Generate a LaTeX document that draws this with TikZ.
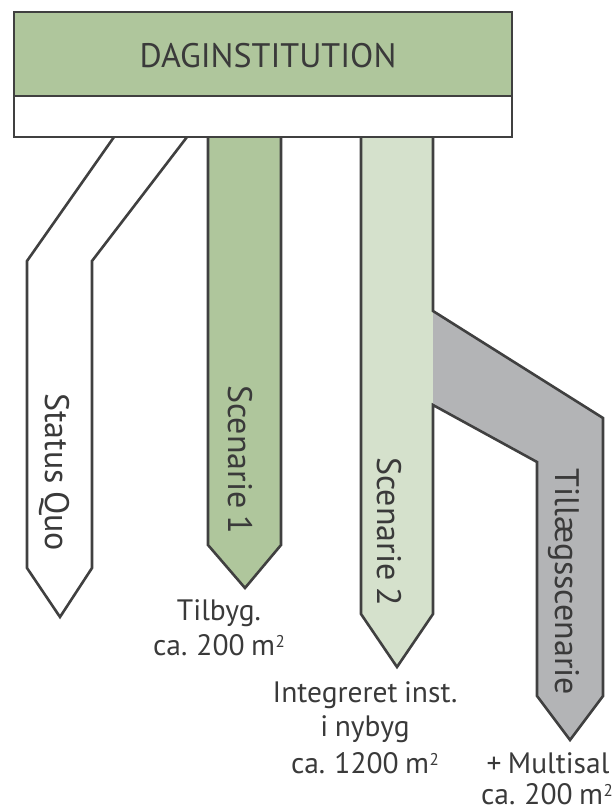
\documentclass[tikz,border=0pt]{standalone}
\usepackage{fontspec}
\setmainfont{PT Sans}
\definecolor{lc}{HTML}{404040}
\definecolor{txt}{HTML}{3A3A3A}
\definecolor{grn}{HTML}{AFC69C}
\definecolor{lgrn}{HTML}{D5E1CC}
\definecolor{gry}{HTML}{B3B4B6}
\newcommand{\sqm}{m\kern0.5pt\raisebox{7.5pt}{\fontsize{17}{17}\selectfont 2}}
\newcommand{\tightsp}{\spaceskip=0.22em\relax}
\tikzset{
  outl/.style={draw=lc, line width=2.6pt, line join=miter},
  vlbl/.style={text=txt, font=\fontsize{34}{40}\selectfont, inner sep=0pt, rotate=-90, anchor=base west},
  blbl/.style={text=txt, font=\fontsize{29.5}{34}\selectfont, inner sep=0pt, anchor=base},
}
\begin{document}
\begin{tikzpicture}[x=1pt,y=-1pt]
\useasboundingbox (0,0) rectangle (615,811);
% Status Quo
\filldraw[outl, fill=white] (114,137) -- (27,261) -- (27,568) -- (60,617) -- (92,568) -- (92,261) -- (187,137);
% Scenarie 1
\filldraw[outl, fill=grn] (208,137) -- (208,545) -- (245,588) -- (281,545) -- (281,137);
% Scenarie 2 and Tillaegsscenarie
\fill[lgrn] (361,137) -- (361,614) -- (397,667) -- (433,614) -- (433,137) -- cycle;
\fill[gry] (433,311) -- (603,418) -- (603,696) -- (570,740) -- (537,696) -- (537,462) -- (433,405) -- cycle;
\draw[outl] (433,137) -- (433,311) -- (603,418) -- (603,696) -- (570,740) -- (537,696) -- (537,462) -- (433,405) -- (433,614) -- (397,667) -- (361,614) -- (361,137);
% top box
\filldraw[outl, fill=grn] (14,12) rectangle (512,96);
\filldraw[outl, fill=white] (14,96) rectangle (512,137);
\node[text=txt, font=\fontsize{34}{40}\selectfont, inner sep=0pt, anchor=base] (title) at (268,67) {DAGINSTITUTION};
% vertical labels
\node[vlbl] (sq) at (45,393) {\tightsp Status Quo};
\node[vlbl] (s1) at (228,385) {\tightsp Scenarie 1};
\node[vlbl] (s2) at (377,457) {\tightsp Scenarie 2};
\node[vlbl] (ts) at (555,468) {Tillægsscenarie};
% bottom labels
\node[blbl] (t1a) at (219,620) {Tilbyg.};
\node[blbl] (t1b) at (219,655) {\tightsp ca. 200 \sqm};
\node[blbl] (t2a) at (365,702) {\tightsp Integreret inst.};
\node[blbl] (t2b) at (365,736) {\tightsp i nybyg};
\node[blbl] (t2c) at (365,773) {\tightsp ca. 1200 \sqm};
\node[blbl] (t3a) at (548,773) {\tightsp + Multisal};
\node[blbl] (t3b) at (547,804) {\tightsp ca. 200 \sqm};
\end{tikzpicture}
\end{document}
